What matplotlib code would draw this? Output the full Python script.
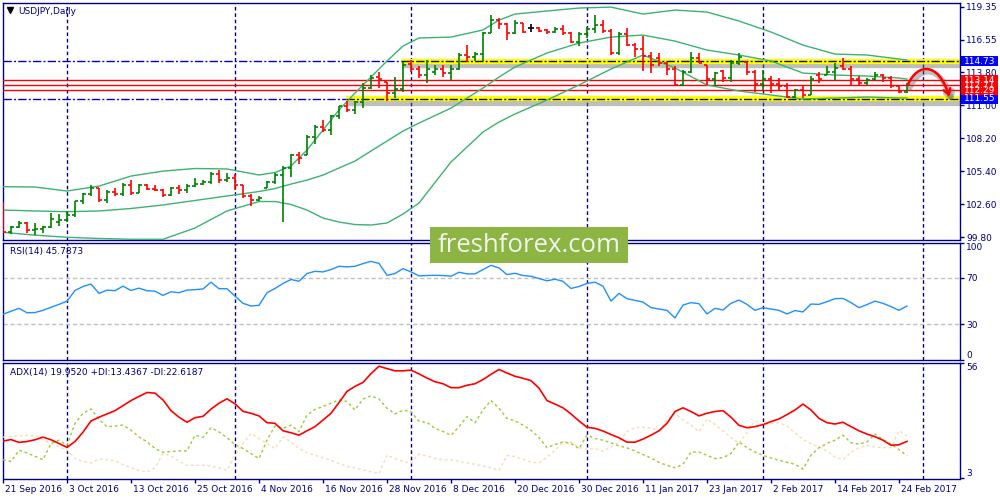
import matplotlib
matplotlib.use("Agg")
import matplotlib.pyplot as plt
import matplotlib.patheffects as pe
import matplotlib.transforms as mtransforms
from matplotlib.patches import Rectangle, FancyArrowPatch
from matplotlib.path import Path

# ---------------- data ----------------
bar_open = [101.70, 100.30, 100.70, 101.00, 100.40, 100.50, 100.70, 101.10, 101.30, 101.70,
            102.85, 103.50, 104.00, 102.95, 103.65, 103.50, 104.20, 103.60, 104.20, 103.90,
            103.85, 103.40, 103.95, 103.80, 104.15, 104.30, 104.50, 105.20, 104.70, 104.85,
            104.20, 103.30, 103.00, 104.00, 104.50, 105.10, 105.70, 106.80, 106.80, 108.35,
            109.15, 108.90, 110.10, 110.90, 110.60, 111.25, 112.50, 113.40, 112.95, 112.00,
            112.40, 114.50, 114.10, 113.60, 113.80, 114.10, 113.70, 114.10, 115.30, 115.10,
            115.35, 117.10, 118.20, 117.90, 117.10, 117.95, 117.55, 117.55, 117.40, 117.25,
            117.50, 117.10, 116.40, 117.00, 117.50, 117.80, 117.30, 115.40, 117.00, 116.10,
            115.80, 115.20, 115.00, 114.60, 114.10, 112.70, 113.80, 115.00, 114.40, 113.20,
            113.90, 113.30, 114.60, 114.70, 113.80, 112.80, 113.20, 112.80, 112.60, 111.70,
            112.30, 111.90, 113.60, 113.55, 113.80, 114.30, 114.10, 113.20, 112.90, 113.20,
            113.60, 113.30, 112.60, 112.10]
bar_high = [102.77, 100.75, 101.20, 101.10, 101.00, 100.75, 101.90, 101.80, 102.00, 102.90,
            103.60, 104.20, 104.00, 103.80, 104.00, 104.45, 104.65, 104.35, 104.30, 104.20,
            103.90, 104.10, 104.20, 104.30, 104.80, 104.65, 105.35, 105.50, 105.25, 105.20,
            104.20, 103.50, 103.35, 104.60, 105.30, 105.85, 106.90, 107.00, 108.50, 109.30,
            109.75, 110.15, 110.95, 111.40, 111.40, 112.90, 113.60, 113.85, 112.95, 113.40,
            114.70, 114.85, 114.30, 114.85, 114.40, 114.40, 114.40, 115.40, 116.10, 115.50,
            117.25, 118.65, 118.40, 118.00, 118.20, 118.00, 117.90, 117.65, 117.45, 117.65,
            117.80, 117.25, 117.20, 117.65, 118.65, 118.25, 117.45, 117.25, 117.55, 116.30,
            116.85, 115.50, 115.40, 114.70, 114.30, 114.00, 115.55, 115.40, 114.40, 113.85,
            114.00, 114.85, 115.40, 114.70, 114.00, 114.00, 113.45, 113.30, 112.85, 112.40,
            112.60, 113.45, 113.85, 114.30, 114.60, 115.00, 114.30, 113.45, 113.30, 113.85,
            113.65, 113.45, 112.70, 112.85]
bar_low = [100.20, 100.05, 100.60, 100.20, 100.00, 100.20, 100.60, 100.80, 101.10, 101.50,
           102.65, 103.30, 102.80, 102.75, 103.30, 103.30, 103.40, 103.55, 103.80, 103.70,
           103.20, 103.35, 103.50, 103.60, 104.10, 104.20, 104.30, 104.45, 104.50, 103.80,
           103.10, 102.50, 102.85, 104.00, 104.30, 101.10, 104.95, 106.00, 106.75, 107.75,
           108.75, 108.50, 109.80, 110.45, 110.25, 110.80, 112.35, 112.50, 111.40, 111.60,
           112.10, 113.85, 113.30, 112.85, 113.60, 113.40, 113.15, 114.00, 114.70, 114.75,
           114.75, 117.10, 117.50, 116.50, 117.05, 117.10, 117.25, 117.25, 117.05, 117.10,
           116.95, 116.25, 116.05, 116.70, 117.15, 117.10, 115.30, 115.30, 116.00, 115.10,
           113.90, 113.70, 114.30, 113.60, 112.60, 112.60, 113.70, 114.55, 112.70, 112.60,
           113.00, 113.00, 114.40, 113.55, 112.15, 112.30, 112.00, 112.30, 111.60, 111.60,
           111.60, 111.85, 112.85, 113.55, 113.15, 114.00, 112.70, 112.70, 112.70, 113.15,
           113.00, 112.45, 112.00, 112.00]
bar_close = [100.30, 100.70, 101.00, 100.40, 100.50, 100.70, 101.40, 101.30, 101.70, 102.85,
             103.50, 104.00, 102.95, 103.65, 103.50, 104.20, 103.60, 104.20, 103.90, 103.85,
             103.40, 103.95, 103.80, 104.15, 104.30, 104.50, 105.20, 104.70, 104.85, 104.20,
             103.30, 103.00, 103.15, 104.50, 105.10, 105.70, 106.80, 106.50, 108.35, 109.15,
             108.90, 110.10, 110.90, 110.60, 111.25, 112.50, 113.30, 113.20, 112.00, 112.40,
             114.40, 114.10, 113.60, 114.10, 114.10, 113.70, 114.10, 115.30, 115.10, 115.35,
             117.10, 118.20, 117.90, 117.10, 117.95, 117.20, 117.55, 117.30, 117.25, 117.50,
             117.10, 116.40, 117.00, 117.50, 117.80, 117.30, 115.40, 117.00, 116.10, 115.80,
             115.20, 114.40, 114.60, 114.10, 112.70, 113.80, 115.00, 114.60, 113.20, 113.70,
             113.30, 114.60, 115.10, 113.80, 112.80, 113.20, 112.80, 112.60, 111.70, 112.30,
             111.90, 113.25, 113.20, 113.80, 114.20, 114.10, 113.20, 112.90, 113.10, 113.60,
             113.30, 112.60, 112.10, 112.70]

# Bollinger bands (20,2), read at these bar positions
bb_idx = [0, 4, 8, 12, 16, 20, 24, 28, 32, 34, 36, 38, 40, 42, 44, 46, 48, 50, 52, 56,
          60, 62, 64, 68, 72, 76, 80, 84, 88, 92, 96, 100, 104, 108, 112, 113]
bb_upper = [104.10, 104.07, 103.73, 104.15, 105.00, 105.42, 105.64, 105.60, 105.09, 105.30,
            105.85, 107.21, 108.90, 110.60, 112.04, 113.39, 114.75, 116.02, 116.70, 116.78,
            117.38, 118.22, 118.73, 118.99, 119.24, 119.32, 118.73, 119.07, 118.90, 118.14,
            117.21, 116.10, 115.34, 115.26, 114.92, 114.83]
bb_mid = [102.12, 102.04, 101.98, 102.04, 102.25, 102.55, 102.93, 103.31, 103.69, 103.94,
          104.32, 104.66, 105.08, 105.68, 106.27, 107.12, 107.97, 108.81, 109.49, 110.76,
          112.46, 113.39, 114.24, 115.43, 116.27, 116.78, 116.95, 116.44, 115.68, 115.26,
          114.75, 113.73, 113.56, 113.48, 113.31, 113.22]
bb_lower = [100.23, 99.99, 99.81, 99.71, 99.64, 99.64, 100.60, 102.04, 102.84, 102.84,
            102.59, 102.12, 101.44, 101.10, 100.89, 100.85, 101.02, 101.78, 102.71, 106.19,
            108.73, 109.58, 110.26, 111.44, 112.72, 114.07, 115.26, 114.16, 112.72, 112.21,
            111.87, 111.53, 111.61, 111.70, 111.61, 111.61]

rsi = [38.7, 41.3, 43.8, 40.0, 40.2, 42.1, 44.7, 47.2, 50.0, 59.1,
       62.5, 64.6, 56.6, 59.4, 58.9, 62.8, 59.1, 61.1, 58.9, 58.5,
       54.9, 58.0, 57.2, 59.4, 59.8, 60.4, 66.2, 60.6, 60.6, 54.3,
       48.1, 45.8, 46.4, 57.2, 60.8, 65.1, 68.5, 67.0, 73.6, 75.5,
       75.0, 77.0, 79.8, 79.3, 79.8, 82.1, 84.0, 82.3, 72.1, 73.6,
       77.8, 75.0, 71.6, 71.9, 72.1, 71.9, 71.3, 74.7, 73.3, 73.3,
       77.0, 80.6, 78.4, 72.7, 73.8, 71.9, 71.3, 69.3, 67.4, 68.7,
       67.0, 60.8, 62.5, 65.1, 66.2, 62.8, 50.0, 56.6, 52.1, 50.6,
       49.2, 44.4, 43.2, 42.1, 35.6, 46.6, 48.7, 47.8, 39.0, 43.8,
       42.4, 48.1, 50.9, 47.2, 42.1, 44.4, 43.2, 42.1, 39.0, 41.9,
       40.7, 47.5, 47.2, 49.5, 52.1, 52.3, 48.7, 44.4, 47.0, 50.0,
       48.1, 45.3, 42.1, 45.79]

adx = [20.1, 20.8, 19.5, 19.9, 20.7, 21.9, 20.7, 19.0, 17.2, 19.9,
       24.2, 29.3, 31.0, 32.5, 34.0, 36.3, 38.6, 40.5, 42.3, 42.0,
       38.9, 34.0, 31.0, 28.7, 30.8, 31.4, 34.7, 37.4, 39.4, 37.1,
       33.7, 32.8, 31.6, 28.5, 28.2, 24.8, 23.9, 22.8, 24.8, 26.7,
       29.7, 32.8, 37.7, 42.8, 45.1, 46.9, 50.9, 54.3, 53.2, 52.2,
       52.2, 52.5, 50.8, 48.9, 47.2, 46.3, 44.5, 44.5, 45.6, 46.3,
       48.2, 50.6, 52.8, 51.2, 49.7, 48.8, 47.7, 44.3, 38.6, 37.0,
       35.3, 32.5, 29.3, 26.4, 25.9, 24.7, 23.1, 21.6, 19.6, 19.6,
       21.0, 22.8, 24.8, 28.2, 33.6, 35.3, 33.6, 31.6, 32.8, 33.6,
       34.0, 31.0, 27.3, 26.2, 26.7, 27.6, 29.0, 30.2, 32.2, 34.3,
       37.0, 34.3, 30.5, 28.5, 27.9, 28.7, 26.7, 24.8, 23.3, 22.1,
       20.5, 18.2, 18.4, 19.95]
plus_di = [11.6, 10.8, 15.9, 14.7, 13.1, 11.6, 19.0, 20.5, 18.2, 28.2,
           32.8, 34.8, 30.0, 26.6, 27.0, 27.4, 25.1, 22.0, 19.7, 16.7,
           15.0, 15.3, 15.6, 15.6, 22.8, 21.8, 26.2, 24.3, 21.6, 18.5,
           16.7, 14.4, 12.1, 20.5, 27.0, 25.9, 27.4, 24.4, 32.0, 34.6,
           35.9, 37.4, 38.9, 38.2, 34.3, 39.3, 40.8, 39.3, 35.1, 32.5,
           34.2, 33.6, 29.1, 28.7, 25.9, 24.5, 22.7, 26.7, 31.3, 28.5,
           34.3, 38.6, 35.1, 30.5, 29.3, 27.4, 25.1, 21.7, 17.1, 18.5,
           19.7, 19.0, 16.7, 22.8, 21.3, 20.5, 19.3, 17.9, 17.0, 15.6,
           13.9, 12.4, 10.4, 9.0, 7.9, 9.5, 15.1, 15.1, 13.6, 12.1,
           12.5, 14.4, 19.7, 17.1, 15.1, 13.6, 12.4, 11.3, 10.4, 9.5,
           7.3, 13.6, 17.1, 19.0, 20.5, 22.8, 19.3, 18.7, 19.7, 23.3,
           20.8, 18.7, 16.2, 13.44]
minus_di = [21.9, 22.2, 22.5, 22.7, 22.7, 20.8, 19.0, 17.4, 16.2, 12.1,
            10.7, 10.1, 11.9, 11.6, 11.0, 9.3, 7.9, 6.7, 5.9, 7.9,
            14.4, 13.3, 10.8, 9.0, 9.0, 9.0, 8.7, 7.8, 6.8, 13.6,
            19.0, 23.6, 21.3, 19.0, 16.7, 22.0, 19.7, 16.7, 14.8, 13.6,
            12.5, 11.3, 9.8, 8.5, 7.8, 7.0, 6.1, 5.2, 13.6, 12.2,
            10.8, 9.9, 14.1, 13.3, 12.2, 11.5, 11.5, 10.8, 10.1, 9.5,
            8.7, 7.9, 6.7, 13.5, 13.1, 11.8, 10.5, 10.1, 12.8, 15.9,
            19.7, 19.7, 17.1, 16.4, 16.7, 15.4, 17.4, 19.7, 24.5, 26.2,
            26.4, 26.2, 24.8, 29.7, 32.8, 29.7, 27.4, 24.4, 30.3, 27.7,
            24.8, 21.7, 19.0, 23.9, 29.4, 27.4, 28.2, 28.5, 27.0, 23.9,
            20.8, 19.0, 17.4, 15.6, 12.8, 11.6, 15.0, 17.1, 18.1, 17.4,
            17.1, 17.1, 24.8, 22.62]

tick_idx = [0, 8, 16, 24, 32, 40, 48, 56, 64, 72, 80, 88, 96, 104, 112]
tick_labels = ["21 Sep 2016", "3 Oct 2016", "13 Oct 2016", "25 Oct 2016", "4 Nov 2016",
               "16 Nov 2016", "28 Nov 2016", "8 Dec 2016", "20 Dec 2016", "30 Dec 2016",
               "11 Jan 2017", "23 Jan 2017", "2 Feb 2017", "14 Feb 2017", "24 Feb 2017"]
month_sep_idx = [8, 29, 51, 73, 95, 115]

price_ticks = [119.35, 116.55, 113.80, 111.00, 108.20, 105.40, 102.60, 99.80]
zone_top, zone_bottom = 114.73, 111.55
zone_top_start, zone_bottom_start = 49.75, 42.9
red_levels = [113.14, 112.29, 112.71]
red_labels = ["113.14", "112.29", "112.71"]

# ---------------- layout ----------------
W, H = 1000, 500
NAVY = "#000080"
fig = plt.figure(figsize=(W / 100, H / 100), dpi=100)
fig.patch.set_facecolor("white")


def add_panel(l, t, r, b):
    a = fig.add_axes([l / W, 1 - b / H, (r - l) / W, (b - t) / H])
    for s in a.spines.values():
        s.set_color(NAVY)
        s.set_linewidth(1.0)
    a.set_facecolor("white")
    return a


ax = add_panel(2.7, 2.5, 960, 240)
ax_rsi = add_panel(2.7, 242.7, 960, 359.5)
ax_adx = add_panel(2.7, 362.5, 960, 478.5)

XMIN, XMAX = -0.04, 119.63
FS = 6.5
for a in (ax, ax_rsi, ax_adx):
    a.set_xlim(XMIN, XMAX)
    a.yaxis.tick_right()
    a.tick_params(axis="y", direction="out", length=3, width=1, colors=NAVY,
                  labelsize=FS, pad=1.5)
    for m in month_sep_idx:
        a.axvline(m, color=NAVY, lw=1.0, ls=(0, (2.6, 2.0)), zorder=1)

ax.set_ylim(99.58, 119.71)
ax_rsi.set_ylim(0, 100)
ax_adx.set_ylim(3, 56)

# ---------------- main panel ----------------
ax.set_xticks([])
ax.set_yticks(price_ticks)
ax.set_yticklabels(["%.2f" % v for v in price_ticks])

# horizontal support/resistance lines
dashdot = (0, (6, 1.6, 1.4, 1.6))
shadow = [pe.SimpleLineShadow(offset=(0.8, -2.6), shadow_color="#707070", alpha=0.45, linewidth=6),
          pe.Normal()]
for lvl, start in ((zone_top, zone_top_start), (zone_bottom, zone_bottom_start)):
    ax.hlines(lvl, XMIN, start, colors="#0000cd", lw=1.0, linestyles=dashdot, zorder=2)
    ax.plot([start, XMAX - 0.1], [lvl + 0.06, lvl + 0.06], color="#ffff00", lw=3.8,
            solid_capstyle="butt", zorder=2, path_effects=shadow)
    ax.hlines(lvl, start, XMAX, colors="#101010", lw=1.0, linestyles=dashdot, zorder=3)

for lvl in red_levels:
    ax.axhline(lvl, color="#ff0000", lw=1.0, zorder=3)

# Bollinger bands
for band in (bb_upper, bb_mid, bb_lower):
    ax.plot(bb_idx, band, color="#3cb371", lw=1.0, zorder=4)

# OHLC bars
xs = list(range(len(bar_close)))
cols = []
for o, c in zip(bar_open, bar_close):
    cols.append("#008000" if c > o else ("#ff0000" if c < o else "#000000"))
tk = 0.42
ax.vlines(xs, bar_low, bar_high, colors=cols, lw=1.2, zorder=5)
ax.hlines(bar_open, [x - tk for x in xs], xs, colors=cols, lw=1.2, zorder=5)
ax.hlines(bar_close, xs, [x + tk for x in xs], colors=cols, lw=1.2, zorder=5)

# curved red arrow
arrow_path = Path([(113.1, 112.72), (114.3, 114.6), (116.9, 114.7), (118.3, 111.72)],
                  [Path.MOVETO, Path.CURVE4, Path.CURVE4, Path.CURVE4])
arr = FancyArrowPatch(path=arrow_path, arrowstyle="->,head_length=4,head_width=2.5",
                      color="#ff0000", lw=1.8, zorder=6, clip_on=False,
                      path_effects=[pe.SimpleLineShadow(offset=(1.5, -2), shadow_color="#606060",
                                                        alpha=0.4, linewidth=4), pe.Normal()])
ax.add_patch(arr)

# right axis price boxes
ytr = ax.get_yaxis_transform()
box_w = 37 / 957.3
box_h = 10 / 11.8
for lvl, txt, fc in ((zone_top, "114.73", "#0000ff"), (zone_bottom, "111.55", "#0000ff")) + \
        tuple((l, t, "#ff0000") for l, t in zip(red_levels, red_labels)):
    ax.add_patch(Rectangle((1.0012, lvl - box_h / 2), box_w, box_h, transform=ytr,
                           facecolor=fc, edgecolor="none", clip_on=False, zorder=10))
    ax.text(1.0045, lvl, txt, transform=ytr, color="white", fontsize=FS, ha="left",
            va="center", clip_on=False, zorder=11)

fig.text(18 / W, 1 - 11 / H, "USDJPY,Daily", color=NAVY, fontsize=FS, ha="left", va="center")
ax.plot([9.5 / W], [1 - 10 / H], marker="v", ms=4.5, color="black", transform=fig.transFigure,
        clip_on=False)

# ---------------- RSI ----------------
ax_rsi.set_xticks([])
ax_rsi.set_yticks([100, 70, 30, 0])
ax_rsi.set_yticklabels(["100", "70", "30", "0"])
tl = ax_rsi.get_yticklabels()
tl[0].set_va("top")
tl[3].set_va("bottom")
for lv in (70, 30):
    ax_rsi.axhline(lv, color="#c0c0c0", lw=1.0, ls=(0, (3, 2)), zorder=1)
ax_rsi.plot(xs, rsi, color="#1e90ff", lw=1.0, zorder=4)
ax_rsi.text(7 / 957.3, 1 - 9 / 116.8, "RSI(14) 45.7873", transform=ax_rsi.transAxes,
            color=NAVY, fontsize=FS, ha="left", va="center")

# ---------------- ADX ----------------
ax_adx.set_yticks([56, 3])
ax_adx.set_yticklabels(["56", "3"])
tl = ax_adx.get_yticklabels()
tl[0].set_va("top")
tl[1].set_va("bottom")
ax_adx.plot(xs, minus_di, color="#f5deb3", lw=1.0, ls=(0, (2, 2)), zorder=3)
ax_adx.plot(xs, plus_di, color="#9acd32", lw=1.0, ls=(0, (2, 2)), zorder=3)
ax_adx.plot(xs, adx, color="#ff0000", lw=1.2, zorder=4)
ax_adx.text(7 / 957.3, 1 - 9.5 / 116, "ADX(14) 19.9520 +DI:13.4367 -DI:22.6187",
            transform=ax_adx.transAxes, color=NAVY, fontsize=FS, ha="left", va="center")
ax_adx.set_xticks(tick_idx)
ax_adx.set_xticklabels(tick_labels)
ax_adx.tick_params(axis="x", direction="out", length=3, width=1, colors=NAVY,
                   labelsize=FS, pad=1.5)
off = mtransforms.ScaledTranslation(2 / 100, 0, fig.dpi_scale_trans)
for lab in ax_adx.get_xticklabels():
    lab.set_ha("left")
    lab.set_transform(lab.get_transform() + off)

# ---------------- watermark ----------------
fig.patches.append(Rectangle((430 / W, 1 - 263 / H), 198 / W, 36 / H, transform=fig.transFigure,
                             facecolor="#8db543", edgecolor="none", zorder=20))
fig.text(529 / W, 1 - 245 / H, "freshforex.com", color="#f2f5ee", fontsize=18.5,
         family="Open Sans", ha="center", va="center", zorder=21)

fig.savefig("out.png", dpi=100, facecolor="white")
